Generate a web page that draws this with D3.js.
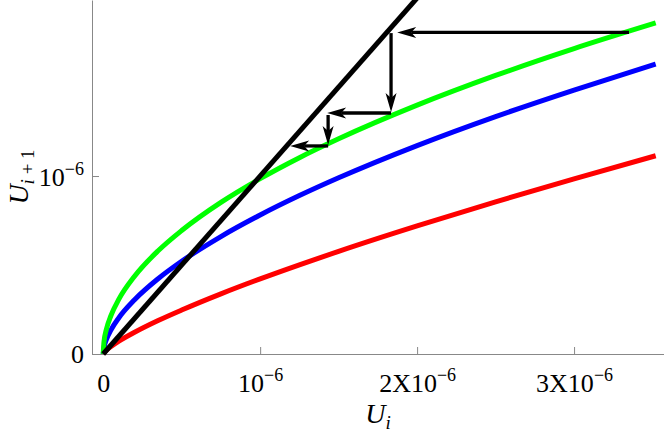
<!DOCTYPE html>
<html>
<head>
<meta charset="utf-8">
<script src="https://cdn.jsdelivr.net/npm/d3@7"></script>
<style>
  html, body { margin: 0; padding: 0; background: #fff; }
  svg { display: block; }
  text { font-family: "Liberation Serif", "Times New Roman", serif; fill: #000; }
</style>
</head>
<body>
<svg id="chart" width="664" height="433"></svg>
<script>
// Values are in units of 1e-6
const uI      = [0, 0.005, 0.02, 0.05, 0.1, 0.2, 0.35, 0.5, 0.75, 1, 1.25, 1.5, 2, 2.5, 3, 3.52];
const greenU  = [0, 0.068, 0.137, 0.217, 0.308, 0.437, 0.580, 0.694, 0.852, 0.985, 1.103, 1.209, 1.398, 1.565, 1.716, 1.860];
const blueU   = [0, 0.035, 0.080, 0.136, 0.204, 0.305, 0.423, 0.521, 0.660, 0.781, 0.890, 0.990, 1.171, 1.334, 1.483, 1.629];
const redU    = [0, 0.007, 0.021, 0.042, 0.072, 0.122, 0.188, 0.247, 0.338, 0.422, 0.501, 0.577, 0.720, 0.855, 0.984, 1.114];
const diagU   = [0, 2.1];

// cobweb arrows: start / end
const arrowX0 = [3.350, 1.834, 1.834, 1.433, 1.433];
const arrowY0 = [1.807, 1.803, 1.354, 1.343, 1.169];
const arrowX1 = [1.873, 1.834, 1.427, 1.433, 1.191];
const arrowY1 = [1.807, 1.360, 1.354, 1.174, 1.169];

const xTickVals = [0, 1, 2, 3];
const xTickMain = ["0", "10", "2X10", "3X10"];
const xTickSup  = ["", "\u22126", "\u22126", "\u22126"];
const yTickVals = [0, 1];
const yTickMain = ["0", "10"];
const yTickSup  = ["", "\u22126"];

const svg = d3.select("#chart");
const W = 664, H = 433;
const left = 92, bottom = 354;

const x = d3.scaleLinear().domain([-0.0713, 3.573]).range([left, W]);
const y = d3.scaleLinear().domain([0, 1.989]).range([bottom, 0]);

// axes
const xAxis = d3.axisBottom(x).tickValues(xTickVals).tickSizeInner(-7).tickSizeOuter(0).tickFormat(() => "");
const yAxis = d3.axisLeft(y).tickValues(yTickVals).tickSizeInner(-7).tickSizeOuter(0).tickFormat(() => "");

const gx = svg.append("g").attr("transform", `translate(0,${bottom})`).call(xAxis);
const gy = svg.append("g").attr("transform", `translate(${left},0)`).call(yAxis);
[gx, gy].forEach(g => {
  g.select(".domain").attr("stroke", "#888").attr("stroke-width", 1);
  g.selectAll(".tick line").attr("stroke", "#888").attr("stroke-width", 1);
  g.selectAll(".tick text").remove();
});

// x tick labels
gx.selectAll(".tick").each(function(d, i) {
  const t = d3.select(this).append("text")
    .attr("y", 38).attr("text-anchor", "middle")
    .attr("font-size", 26).attr("fill", "#000");
  t.append("tspan").text(xTickMain[i]);
  if (xTickSup[i]) t.append("tspan").attr("dy", -11).attr("font-size", 18).text(xTickSup[i]);
});
gy.selectAll(".tick").each(function(d, i) {
  const t = d3.select(this).append("text")
    .attr("x", -8).attr("y", i === 0 ? 8 : 9).attr("text-anchor", "end")
    .attr("font-size", 26).attr("fill", "#000");
  t.append("tspan").text(yTickMain[i]);
  if (yTickSup[i]) t.append("tspan").attr("dy", -11).attr("font-size", 18).text(yTickSup[i]);
});

// axis labels
const xl = svg.append("text").attr("x", 378).attr("y", 423).attr("text-anchor", "middle")
  .attr("font-size", 28);
xl.append("tspan").attr("font-style", "italic").text("U");
xl.append("tspan").attr("font-style", "italic").attr("font-size", 19).attr("dy", 6).text("i");

const yl = svg.append("text").attr("transform", "translate(28,177) rotate(-90)")
  .attr("text-anchor", "middle").attr("font-size", 28);
yl.append("tspan").attr("font-style", "italic").text("U");
yl.append("tspan").attr("font-style", "italic").attr("font-size", 19).attr("dy", 6).text("i");
yl.append("tspan").attr("font-size", 19).text(" + 1");

// curves
const line = d3.line().x(d => x(d[0])).y(d => y(d[1])).curve(d3.curveMonotoneX);
const plot = svg.append("g");
const series = [
  { ys: redU,   color: "#ff0000" },
  { ys: blueU,  color: "#0000ff" },
  { ys: greenU, color: "#00ff00" }
];
series.forEach(s => {
  plot.append("path")
    .attr("d", line(uI.map((u, i) => [u, s.ys[i]])))
    .attr("fill", "none").attr("stroke", s.color).attr("stroke-width", 5);
});
plot.append("path")
  .attr("d", d3.line().x(d => x(d[0])).y(d => y(d[1]))(diagU.map(u => [u, u])))
  .attr("fill", "none").attr("stroke", "#000").attr("stroke-width", 5);

// arrows
const headLen = 19, headHalf = 5.5, indent = 5;
arrowX0.forEach((_, i) => {
  const sx = x(arrowX0[i]), sy = y(arrowY0[i]);
  const ex = x(arrowX1[i]), ey = y(arrowY1[i]);
  const ang = Math.atan2(ey - sy, ex - sx);
  const ux = Math.cos(ang), uy = Math.sin(ang);
  const px = -uy, py = ux;
  plot.append("line")
    .attr("x1", sx).attr("y1", sy)
    .attr("x2", ex - ux * (headLen - indent)).attr("y2", ey - uy * (headLen - indent))
    .attr("stroke", "#000").attr("stroke-width", 3.3);
  const pts = [
    [ex, ey],
    [ex - ux * headLen + px * headHalf, ey - uy * headLen + py * headHalf],
    [ex - ux * (headLen - indent), ey - uy * (headLen - indent)],
    [ex - ux * headLen - px * headHalf, ey - uy * headLen - py * headHalf]
  ];
  plot.append("path").attr("d", "M" + pts.map(p => p.join(",")).join("L") + "Z").attr("fill", "#000");
});
</script>
</body>
</html>
